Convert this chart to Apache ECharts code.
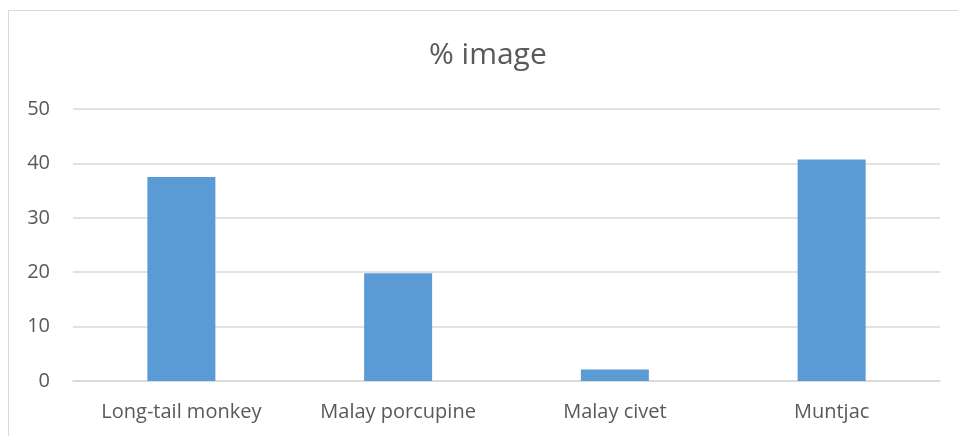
<!DOCTYPE html>
<html>
<head>
<meta charset="utf-8">
<script src="https://cdn.jsdelivr.net/npm/echarts@6/dist/echarts.min.js"></script>
<style>
    html, body { margin: 0; padding: 0; background: #fff; }
    #chart { width: 958px; height: 436px; }
</style>
</head>
<body>
<div id="chart"></div>
<script>
    // data
    const categories = ['Long-tail monkey', 'Malay porcupine', 'Malay civet', 'Muntjac'];
    const percentImage = [37.5, 19.8, 2.1, 40.7];
    const yTicks = [0, 10, 20, 30, 40, 50];

    const font = '"Open Sans", "Noto Sans", sans-serif';

    let option = {
        animation: false,
        backgroundColor: '#fff',
        title: {
            text: '% image',
            left: 424,
            top: 35,
            textStyle: {
                color: '#595959',
                fontSize: 30,
                fontWeight: 'normal',
                fontFamily: font
            }
        },
        graphic: [{
            // chart frame, cut off on the right and bottom
            type: 'rect',
            shape: { x: 8.5, y: 10.5, width: 1000, height: 500 },
            style: { fill: 'none', stroke: '#d9d9d9', lineWidth: 1 },
            silent: true
        }],
        grid: {
            left: 73,
            right: 18,
            top: 109,
            bottom: 55
        },
        xAxis: {
            type: 'category',
            data: categories,
            axisLine: { show: true, lineStyle: { color: '#d9d9d9', width: 1.5 } },
            axisTick: { show: false },
            axisLabel: {
                color: '#595959',
                fontSize: 20,
                fontFamily: font,
                margin: 21
            }
        },
        yAxis: {
            type: 'value',
            min: yTicks[0],
            max: yTicks[yTicks.length - 1],
            interval: 10,
            axisLine: { show: false },
            axisTick: { show: false },
            axisLabel: {
                color: '#595959',
                fontSize: 20,
                fontFamily: font,
                margin: 23
            },
            splitLine: { lineStyle: { color: '#d9d9d9', width: 1.5 } }
        },
        series: [{
            type: 'bar',
            data: percentImage,
            barWidth: 68,
            itemStyle: { color: '#5b9bd5' }
        }]
    };

    let chart = echarts.init(document.getElementById('chart'));
    chart.setOption(option);
    window.addEventListener('resize', function () {
        chart.resize();
    });
</script>
</body>
</html>
